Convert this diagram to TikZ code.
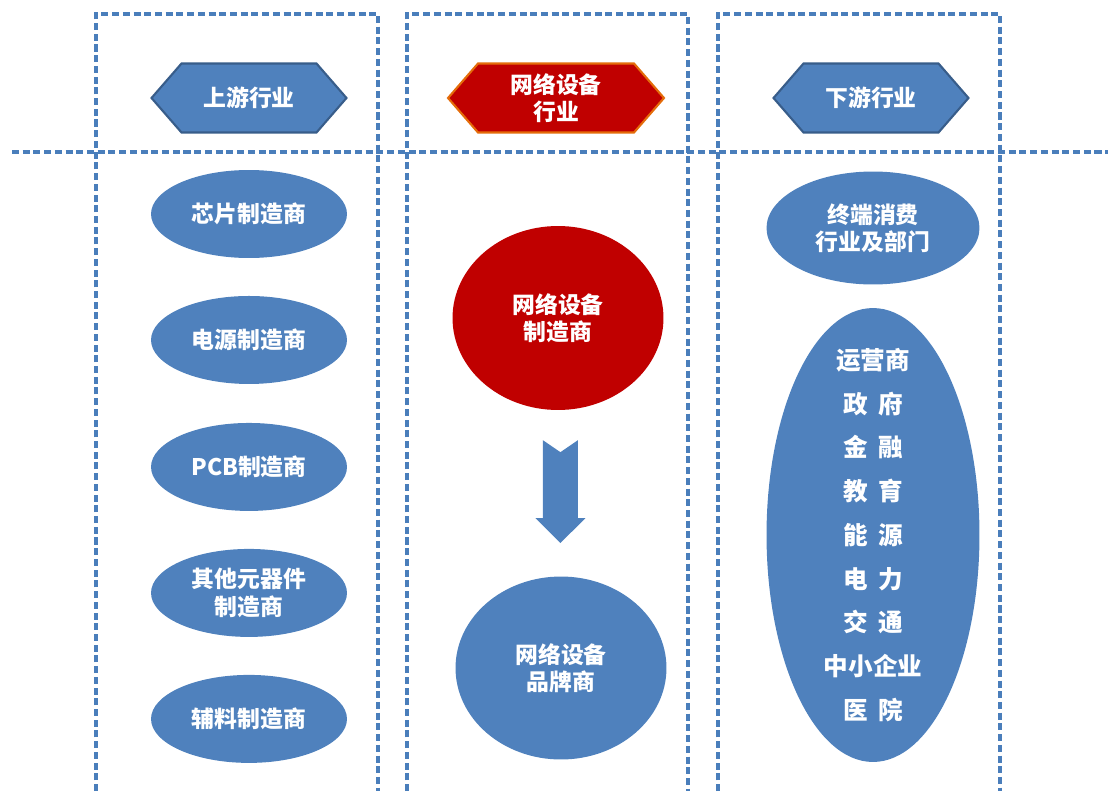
\documentclass[tikz,border=0pt]{standalone}
\usepackage{fontspec}
\setmainfont{Noto Sans CJK SC}
\usetikzlibrary{positioning, calc, shapes.geometric, shapes.symbols}
\definecolor{chainblue}{HTML}{4F81BD}
\definecolor{hexline}{HTML}{385D8A}
\definecolor{dashblue}{HTML}{4A7EBB}
\definecolor{chainred}{HTML}{C00000}
\definecolor{hexorange}{HTML}{E46C0A}
\newcommand{\pairsp}[2]{#1\hspace{0.42em}#2}
\tikzset{
  colbox/.style={draw=dashblue, line width=1.8pt, dash pattern=on 4pt off 2.1pt},
  hexa/.style={signal, signal to=west and east, signal pointer angle=98,
    minimum width=3.9cm, minimum height=1.38cm, inner sep=0pt,
    fill=chainblue, draw=hexline, line width=1.2pt, text=white, align=center,
    font=\bfseries\fontsize{13}{15.5}\selectfont},
  oval/.style={ellipse, fill=chainblue, minimum width=3.92cm, minimum height=1.76cm,
    inner sep=0pt, text=white, align=center,
    font=\bfseries\fontsize{13}{15.5}\selectfont}
}
\begin{document}
\begin{tikzpicture}[x=0.02cm, y=-0.02cm, node distance=2.52cm]
\useasboundingbox (0,0) rectangle (1108,791);
% columns and header line
\draw[colbox] (96,791) |- (378,14) -- (378,791);
\draw[colbox] (407,791) |- (688,14) -- (688,791);
\draw[colbox] (718,791) |- (1000,14) -- (1000,791);
\draw[colbox] (12,152) -- (1108,152);

% headers
\node[hexa] (upstream) at (249,98) {上游行业};
\node[hexa, fill=chainred, draw=hexorange, minimum width=4.32cm] (industry) at (556,98) {网络设备\\行业};
\node[hexa] (downstream) at (871,98) {下游行业};

% upstream suppliers
\node[oval] (chip) at (249,214) {芯片制造商};
\node[oval, below of=chip] (power) {电源制造商};
\node[oval, below of=power, yshift=-0.02cm] (pcb) {PCB制造商};
\node[oval, below of=pcb] (parts) {其他元器件\\制造商};
\node[oval, below of=parts] (aux) {辅料制造商};

% network equipment
\node[oval, fill=chainred, minimum width=4.22cm, minimum height=3.68cm] (maker) at (558,318) {网络设备\\制造商};
\node[oval, minimum width=4.22cm, minimum height=3.66cm] (brand) at (561,668) {网络设备\\品牌商};
\coordinate (arrtail) at ($(maker.south)!0.18!(brand.north)$);
\coordinate (arrtip) at ($(maker.south)!0.80!(brand.north)$);
\fill[chainblue] (arrtail -| arrtip) ++(-17.5,0) -- ++(17.5,12) -- ++(17.5,-12) -- ++(0,78)
  -- ++(7.5,0) -- (arrtip) -- ++(-25,-25) -- ++(7.5,0) -- cycle;

% downstream
\node[oval, minimum width=4.26cm, minimum height=2.26cm] (terminal) at (873,228) {终端消费\\行业及部门};
\node[oval, minimum width=4.26cm, minimum height=9.08cm, inner ysep=-1.2cm,
  font=\bfseries\fontsize{14}{24.9}\selectfont] (sectors) at (873,535)
  {运营商\\\pairsp{政}{府}\\\pairsp{金}{融}\\\pairsp{教}{育}\\\pairsp{能}{源}\\\pairsp{电}{力}\\\pairsp{交}{通}\\中小企业\\\pairsp{医}{院}};
\end{tikzpicture}
\end{document}
